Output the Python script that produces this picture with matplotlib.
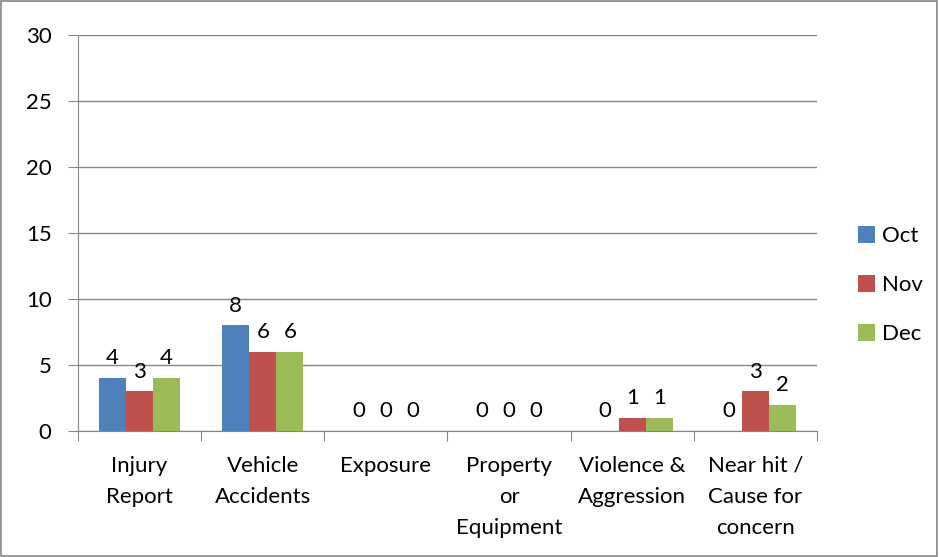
import matplotlib
matplotlib.use("Agg")
import matplotlib.pyplot as plt
import numpy as np

categories = ["Injury\nReport", "Vehicle\nAccidents", "Exposure", "Property\nor\nEquipment",
              "Violence &\nAggression", "Near hit /\nCause for\nconcern"]
months = ["Oct", "Nov", "Dec"]
oct_vals = [4, 8, 0, 0, 0, 0]
nov_vals = [3, 6, 0, 0, 1, 3]
dec_vals = [4, 6, 0, 0, 1, 2]
colors = ["#4F81BD", "#C0504D", "#9BBB59"]

plt.rcParams["font.family"] = ["Lato", "DejaVu Sans"]
fs = 16

fig = plt.figure(figsize=(9.39, 5.57), dpi=100)
ax = fig.add_axes([78 / 939, 1 - 431 / 557, (817 - 78) / 939, (431 - 35) / 557])

# figure border
fig.patches.append(plt.Rectangle((0.001, 0.002), 0.997, 0.996, transform=fig.transFigure,
                                 fill=False, edgecolor="#868686", linewidth=1.2))

x = np.arange(len(categories))
w = 0.22
for i, (vals, name, c) in enumerate(zip([oct_vals, nov_vals, dec_vals], months, colors)):
    pos = x + (i - 1) * w
    bars = ax.bar(pos, vals, width=w, color=c, label=name, zorder=3)
    for b, v in zip(bars, vals):
        ax.annotate(str(v), (b.get_x() + b.get_width() / 2, v), xytext=(0, 7),
                    textcoords="offset points", ha="center", va="bottom", fontsize=fs)

ax.set_xlim(-0.5, len(categories) - 0.5)
ax.set_ylim(0, 30)
ax.set_yticks(range(0, 31, 5))
ax.yaxis.grid(True, color="#868686", linewidth=1, zorder=0)

ax.set_xticks(np.arange(-0.5, len(categories), 1))
ax.set_xticklabels([])
ax.set_xticks(x, minor=True)
ax.set_xticklabels(categories, minor=True, fontsize=fs, linespacing=1.68, va="top")
ax.tick_params(axis="x", which="major", length=7, color="#868686", direction="out")
ax.tick_params(axis="x", which="minor", length=0, pad=18)
ax.tick_params(axis="y", length=7, color="#868686", labelsize=fs, pad=12)

for side in ["top", "right"]:
    ax.spines[side].set_visible(False)
for side in ["left", "bottom"]:
    ax.spines[side].set_color("#868686")

ax.legend(loc="center left", bbox_to_anchor=(1.055, 0.369), frameon=False, fontsize=fs,
          handlelength=0.8, handleheight=0.8, labelspacing=1.3, handletextpad=0.3,
          borderaxespad=0, borderpad=0)

plt.savefig("out.png", dpi=100)
